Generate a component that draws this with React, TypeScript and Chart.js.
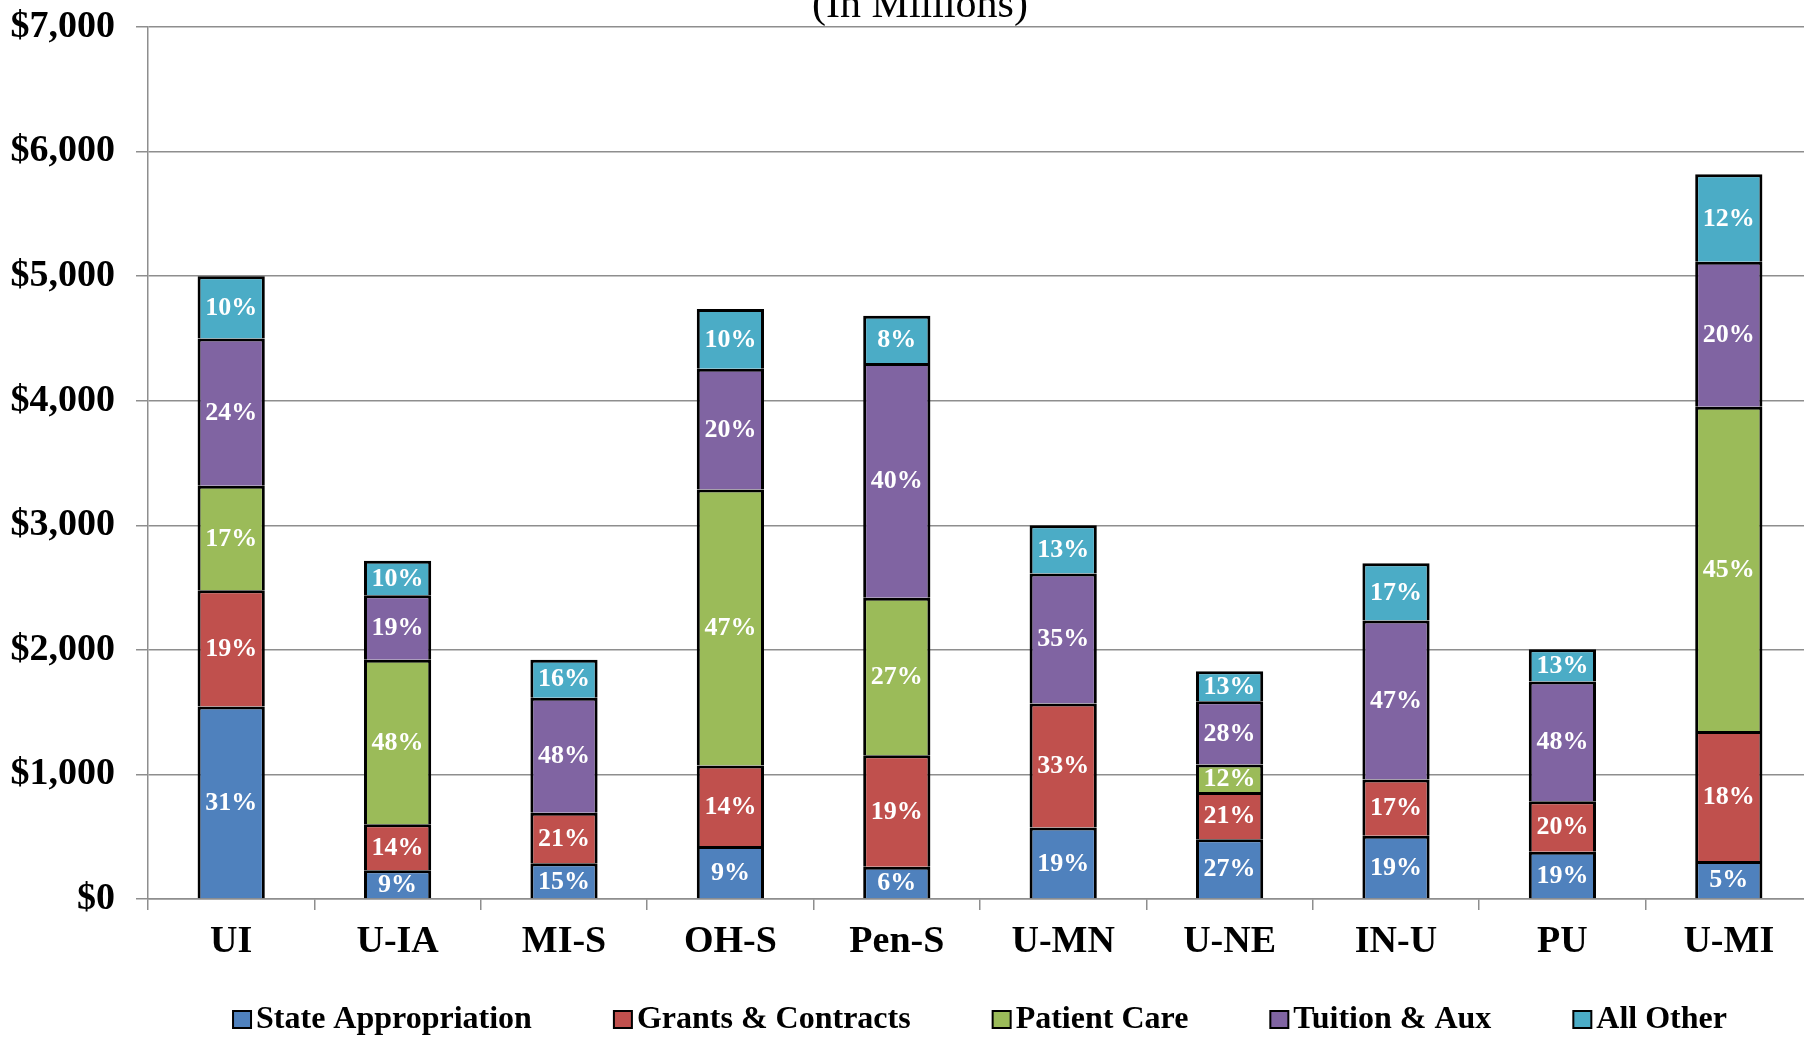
import React, { useEffect, useRef } from 'react';
import { Chart, registerables } from 'chart.js';

Chart.register(...registerables);

const FONT = '"Liberation Serif", "Times New Roman", serif';

const categories = ['UI', 'U-IA', 'MI-S', 'OH-S', 'Pen-S', 'U-MN', 'U-NE', 'IN-U', 'PU', 'U-MI'];

const stateAppropriation = [1545, 231, 286, 425, 259, 573, 480, 508, 379, 305];
const grantsContracts = [933, 369, 407, 646, 895, 997, 379, 452, 406, 1043];
const patientCare = [840, 1321, null, 2216, 1265, null, 221, null, null, 2604];
const tuitionAux = [1182, 517, 923, 970, 1884, 1043, 508, 1275, 960, 1164];
const allOther = [500, 277, 305, 480, 379, 388, 240, 461, 259, 702];

const pctState = ['31%', '9%', '15%', '9%', '6%', '19%', '27%', '19%', '19%', '5%'];
const pctGrants = ['19%', '14%', '21%', '14%', '19%', '33%', '21%', '17%', '20%', '18%'];
const pctPatient = ['17%', '48%', null, '47%', '27%', null, '12%', null, null, '45%'];
const pctTuition = ['24%', '19%', '48%', '20%', '40%', '35%', '28%', '47%', '48%', '20%'];
const pctOther = ['10%', '10%', '16%', '10%', '8%', '13%', '13%', '17%', '13%', '12%'];

const seriesNames = ['State Appropriation', 'Grants & Contracts', 'Patient Care', 'Tuition & Aux', 'All Other'];
const seriesColors = ['#4F81BD', '#C0504D', '#9BBB59', '#8064A2', '#4BACC6'];

const yTickLabels = ['$0', '$1,000', '$2,000', '$3,000', '$4,000', '$5,000', '$6,000', '$7,000'];

const subtitle = '(In Millions)';

const pctLabels = [pctState, pctGrants, pctPatient, pctTuition, pctOther];

const GRID = '#8e8e8e';

const pctPlugin = {
  id: 'pctLabels',
  afterDatasetsDraw(chart: any) {
    const ctx = chart.ctx;
    ctx.save();
    ctx.font = `bold 26px ${FONT}`;
    ctx.fillStyle = '#ffffff';
    ctx.textAlign = 'center';
    ctx.textBaseline = 'middle';
    chart.data.datasets.forEach((_ds: any, di: number) => {
      const meta = chart.getDatasetMeta(di);
      meta.data.forEach((el: any, i: number) => {
        const t = pctLabels[di][i];
        if (!t) return;
        const p = el.getProps(['x', 'y', 'base'], true);
        ctx.fillText(t, p.x, (p.y + p.base) / 2 + 1);
      });
    });
    ctx.restore();
  },
};

const extrasPlugin = {
  id: 'extras',
  afterDraw(chart: any) {
    const ctx = chart.ctx;
    ctx.save();
    ctx.font = `42px ${FONT}`;
    ctx.fillStyle = '#000';
    ctx.textAlign = 'center';
    ctx.textBaseline = 'alphabetic';
    ctx.fillText(subtitle, 920, 17);

    ctx.font = `bold 32px ${FONT}`;
    const box = 18;
    const gap = 5;
    const spacing = 82;
    const widths = seriesNames.map((n) => box + gap + ctx.measureText(n).width);
    const total = widths.reduce((a, b) => a + b, 0) + spacing * (seriesNames.length - 1);
    const center = 980;
    let x = center - total / 2;
    const baseline = 1028;
    ctx.textAlign = 'left';
    seriesNames.forEach((n, i) => {
      ctx.fillStyle = seriesColors[i];
      ctx.fillRect(x, baseline - 17, box, 17);
      ctx.strokeStyle = '#000';
      ctx.lineWidth = 2;
      ctx.strokeRect(x, baseline - 17, box, 17);
      ctx.fillStyle = '#000';
      ctx.fillText(n, x + box + gap, baseline);
      x += widths[i] + spacing;
    });
    ctx.restore();
  },
};

export default function App() {
  const ref = useRef<HTMLCanvasElement | null>(null);

  useEffect(() => {
    if (!ref.current) return;
    const dataArrays = [stateAppropriation, grantsContracts, patientCare, tuitionAux, allOther];
    const chart = new Chart(ref.current, {
      type: 'bar',
      data: {
        labels: categories,
        datasets: dataArrays.map((d, i) => ({
          label: seriesNames[i],
          data: d as any,
          backgroundColor: seriesColors[i],
          borderColor: '#000000',
          borderWidth: 3,
          borderSkipped: 'start',
          barPercentage: 0.404,
          categoryPercentage: 1,
        })),
      },
      options: {
        responsive: false,
        animation: false,
        layout: { padding: { top: 27, right: 0, bottom: 72, left: 0 } },
        plugins: {
          legend: { display: false },
          title: { display: false },
          tooltip: { enabled: false },
        },
        scales: {
          x: {
            stacked: true,
            grid: {
              offset: true,
              drawOnChartArea: false,
              drawTicks: true,
              tickLength: 11,
              color: GRID,
              lineWidth: 1.5,
            },
            border: { display: true, color: GRID, width: 1.5 },
            ticks: {
              color: '#000',
              padding: 9,
              font: { family: FONT, size: 38, weight: 'bold', lineHeight: 1.2 },
              maxRotation: 0,
              autoSkip: false,
            },
            afterFit: (s: any) => {
              s.height = 66;
              s.paddingLeft = 0;
              s.paddingRight = 0;
            },
          },
          y: {
            stacked: true,
            min: 0,
            max: 7000,
            grid: {
              color: GRID,
              lineWidth: 1.5,
              tickLength: 12,
            },
            border: { display: true, color: GRID, width: 1.5 },
            ticks: {
              stepSize: 1000,
              color: '#000',
              padding: 21,
              font: { family: FONT, size: 38, weight: 'bold' },
              callback: (_v: any, idx: number) => yTickLabels[idx],
            },
            afterFit: (s: any) => {
              s.width = 148;
              s.paddingTop = 0;
              s.paddingBottom = 0;
            },
          },
        },
      },
      plugins: [pctPlugin, extrasPlugin],
    });
    return () => chart.destroy();
  }, []);

  return (
    <div
      style={{
        position: 'fixed',
        left: 0,
        top: 0,
        width: 1804,
        height: 1037,
        overflow: 'hidden',
        background: '#fff',
      }}
    >
      <canvas ref={ref} width={1812} height={1037} style={{ display: 'block' }} />
    </div>
  );
}
